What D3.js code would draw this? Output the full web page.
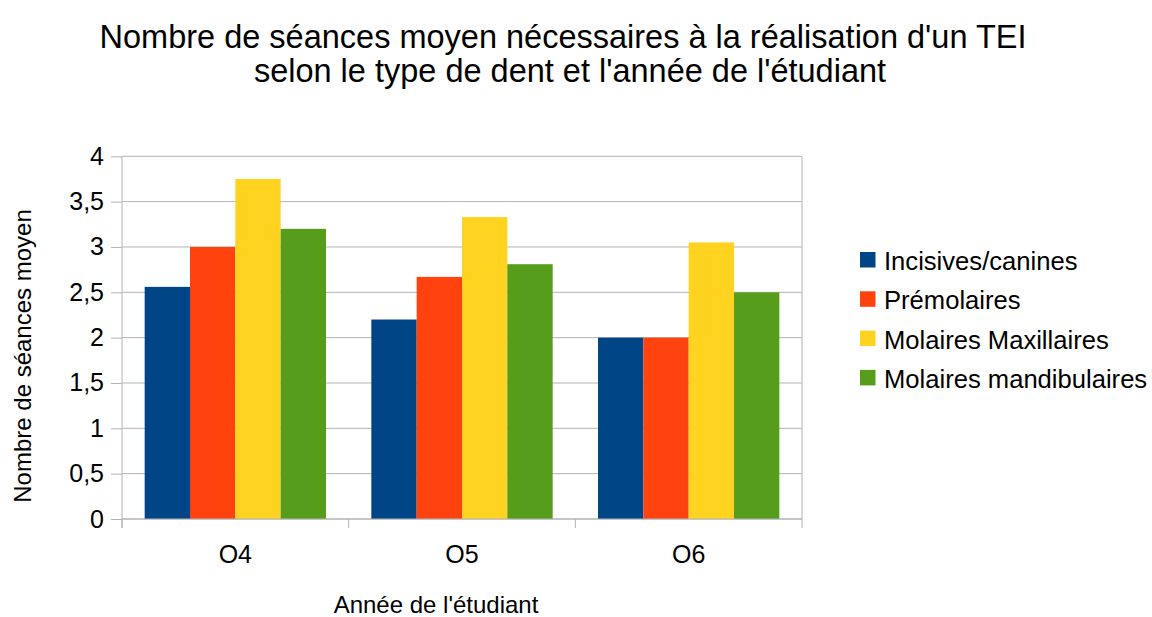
<!DOCTYPE html>
<html><head><meta charset="utf-8">
<script src="https://cdn.jsdelivr.net/npm/d3@7"></script>
<style>body{margin:0;background:#fff}</style>
</head><body>
<svg id="c" width="1152" height="617"></svg>
<script>
const categories = ["O4", "O5", "O6"];
const seriesNames = ["Incisives/canines", "Prémolaires", "Molaires Maxillaires", "Molaires mandibulaires"];
const incisives = [2.56, 2.2, 2.0];
const premolaires = [3.0, 2.67, 2.0];
const molMax = [3.75, 3.33, 3.05];
const molMand = [3.2, 2.81, 2.5];
const yTicks = [0, 0.5, 1, 1.5, 2, 2.5, 3, 3.5, 4];
const colors = ["#004586", "#ff420e", "#ffd320", "#579d1c"];
const seriesValues = [incisives, premolaires, molMax, molMand];

const svg = d3.select("#c");
const font = "Liberation Sans, Arial, sans-serif";
const L = 122, R = 802, T = 156.3, B = 519;

const x = d3.scaleBand().domain(categories).range([L, R]).paddingInner(0.2).paddingOuter(0.1);
const xs = d3.scaleBand().domain(d3.range(seriesNames.length)).range([0, x.bandwidth()]);
const y = d3.scaleLinear().domain([0, 4]).range([B, T]);

// grid
svg.append("g").selectAll("line").data(yTicks).join("line")
  .attr("x1", L).attr("x2", R).attr("y1", d => y(d)).attr("y2", d => y(d))
  .attr("stroke", "#b3b3b3").attr("stroke-width", 1);
svg.append("line").attr("x1", R).attr("x2", R).attr("y1", T).attr("y2", B).attr("stroke", "#b3b3b3");

// bars
const g = svg.append("g");
seriesValues.forEach((vals, si) => {
  g.selectAll(null).data(vals).join("rect")
    .attr("x", (d, i) => x(categories[i]) + xs(si))
    .attr("width", xs.bandwidth())
    .attr("y", d => y(d))
    .attr("height", d => B - y(d))
    .attr("fill", colors[si]);
});

// y axis
const yAxis = d3.axisLeft(y).tickValues(yTicks).tickSize(11).tickPadding(7)
  .tickFormat(d => String(d).replace(".", ","));
const ya = svg.append("g").attr("transform", `translate(${L},0)`).call(yAxis);
ya.select(".domain").attr("stroke", "#b3b3b3").attr("d", `M0,${T}V${B + 9}`);
ya.selectAll(".tick line").attr("stroke", "#b3b3b3");
ya.selectAll("text").attr("font-family", font).attr("font-size", 25).attr("fill", "#000");

// x axis
const step = x.step();
const bounds = [L, L + step, L + 2 * step, R];
svg.append("g").selectAll("line").data(bounds).join("line")
  .attr("x1", d => d).attr("x2", d => d).attr("y1", B).attr("y2", B + 9)
  .attr("stroke", "#b3b3b3");
svg.append("line").attr("x1", L).attr("x2", R).attr("y1", B).attr("y2", B).attr("stroke", "#b3b3b3");
svg.append("g").selectAll("text").data(categories).join("text")
  .attr("x", d => x(d) + x.bandwidth() / 2).attr("y", 563)
  .attr("text-anchor", "middle").attr("font-family", font).attr("font-size", 25).text(d => d);

// axis titles
svg.append("text").attr("x", 436).attr("y", 613).attr("text-anchor", "middle")
  .attr("font-family", font).attr("font-size", 24).text("Année de l'étudiant");
svg.append("text").attr("transform", "translate(31,356) rotate(-90)").attr("text-anchor", "middle")
  .attr("font-family", font).attr("font-size", 24).text("Nombre de séances moyen");

// title
svg.append("text").attr("x", 563).attr("y", 48).attr("text-anchor", "middle")
  .attr("font-family", font).attr("font-size", 32.5).text("Nombre de séances moyen nécessaires à la réalisation d'un TEI");
svg.append("text").attr("x", 570).attr("y", 82).attr("text-anchor", "middle")
  .attr("font-family", font).attr("font-size", 32.5).text("selon le type de dent et l'année de l'étudiant");

// legend
const lg = svg.append("g");
seriesNames.forEach((n, i) => {
  const yy = 252 + i * 39.3;
  lg.append("rect").attr("x", 860).attr("y", yy).attr("width", 15.5).attr("height", 15.5).attr("fill", colors[i]);
  lg.append("text").attr("x", 884).attr("y", yy + 18).attr("font-family", font).attr("font-size", 25.6).text(n);
});
</script>
</body></html>
